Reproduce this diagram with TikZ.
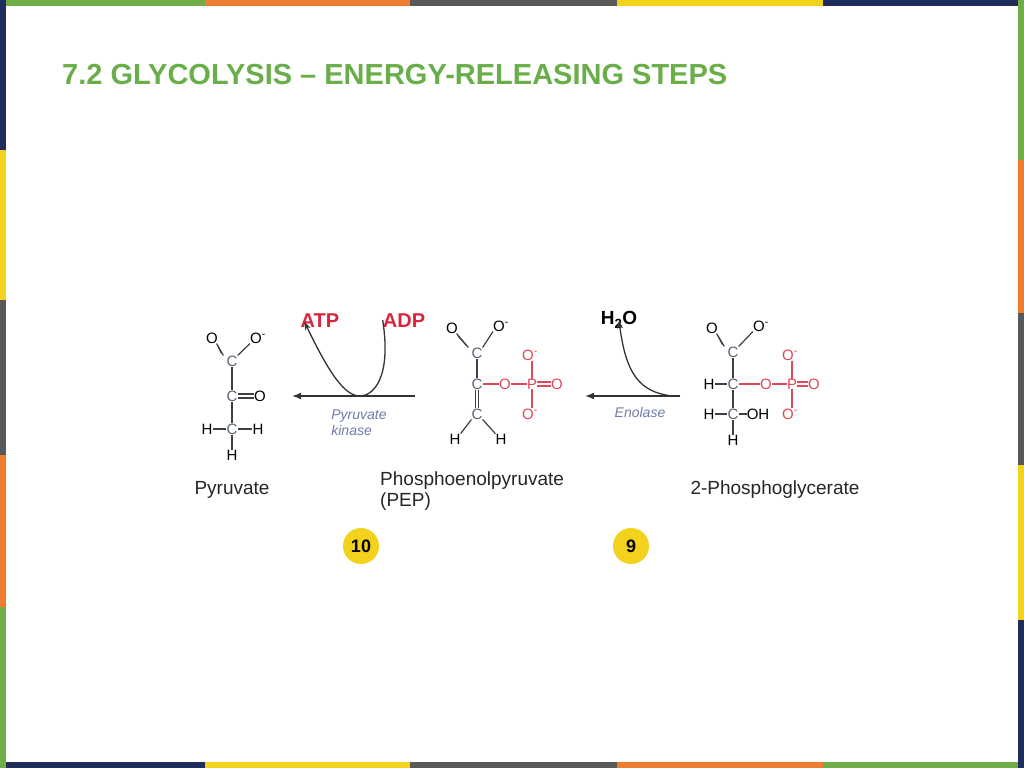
\documentclass[tikz,border=0pt]{standalone}
\usepackage{fontspec}
\setmainfont{Liberation Sans}
\usetikzlibrary{arrows.meta}
\definecolor{bgreen}{HTML}{70AD47}
\definecolor{borange}{HTML}{ED7D31}
\definecolor{bgrey}{HTML}{595959}
\definecolor{byellow}{HTML}{F2D21C}
\definecolor{bnavy}{HTML}{1F2D5C}
\definecolor{ttl}{HTML}{6AAE4A}
\definecolor{cgrey}{HTML}{5A6478}
\definecolor{pred}{HTML}{E0485A}
\definecolor{enz}{HTML}{6E7CA8}
\definecolor{atpred}{HTML}{D9263F}
\newcommand{\omin}{O\textsuperscript{-}}
\tikzset{
 atm/.style={inner sep=0pt,font=\fontsize{15}{15}\selectfont},
 cat/.style={atm,text=cgrey},
 rat/.style={atm,text=pred},
 bd/.style={line width=1.2pt,black!75},
 rbd/.style={line width=1.2pt,pred},
 lbl/.style={inner sep=0pt,font=\fontsize{19}{21}\selectfont,align=left,text=black!85},
 enzl/.style={inner sep=0pt,font=\fontsize{14}{16}\selectfont\itshape,text=enz,align=left},
 rx/.style={line width=1.6pt,black!80,-{Latex[length=9pt,width=7pt]}},
 cv/.style={line width=1.3pt,black!80,-{Stealth[length=8pt,width=6pt]}},
 num/.style={circle,fill=byellow,minimum size=36pt,inner sep=0pt,font=\bfseries\fontsize{18}{18}\selectfont}
}
\begin{document}
\begin{tikzpicture}[x=1pt,y=-1pt]
\useasboundingbox (0,0) rectangle (1024,768);
\fill[white] (0,0) rectangle (1024,768);
% borders
\foreach \a/\b/\c in {0/205/bgreen,205/410/borange,410/617/bgrey,617/823/byellow,823/1024/bnavy}
  \fill[\c] (\a,0) rectangle (\b,6);
\foreach \a/\b/\c in {0/205/bnavy,205/410/byellow,410/617/bgrey,617/823/borange,823/1024/bgreen}
  \fill[\c] (\a,762) rectangle (\b,768);
\foreach \a/\b/\c in {0/150/bnavy,150/300/byellow,300/455/bgrey,455/607/borange,607/768/bgreen}
  \fill[\c] (0,\a) rectangle (6,\b);
\foreach \a/\b/\c in {0/160/bgreen,160/313/borange,313/465/bgrey,465/620/byellow,620/768/bnavy}
  \fill[\c] (1018,\a) rectangle (1024,\b);
\node[anchor=west,inner sep=0pt,text=ttl,font=\bfseries\fontsize{29}{29}\selectfont] (title) at (62,75) {7.2 GLYCOLYSIS – ENERGY-RELEASING STEPS};

% Pyruvate
\node[atm] (a1) at (212,338) {O};
\node[cat] (a2) at (232,361) {C};
\node[atm] (a3) at (258,338) {\omin};
\node[cat] (a4) at (232,396) {C};
\node[atm] (a5) at (260,396) {O};
\node[atm] (a6) at (207,429) {H};
\node[cat] (a7) at (232,429) {C};
\node[atm] (a8) at (258,429) {H};
\node[atm] (a9) at (232,455) {H};
\draw[bd] ([xshift=-1.5pt]a1.south east) -- ([xshift=-3pt]a2.north west);
\draw[bd] ([yshift=-2.5pt]a1.south east) -- ([xshift=-5pt,yshift=2pt]a2.north west);
\draw[bd] (a2.north east) -- (a3.south west);
\draw[bd] (a2.south) -- (a4.north);
\draw[bd] ([yshift=-2pt]a4.east) -- ([yshift=-2pt]a5.west);
\draw[bd] ([yshift=2pt]a4.east) -- ([yshift=2pt]a5.west);
\draw[bd] (a4.south) -- (a7.north);
\draw[bd] (a6.east) -- (a7.west);
\draw[bd] (a7.east) -- (a8.west);
\draw[bd] (a7.south) -- (a9.north);
\node[lbl] (pyr) at (232,490) {Pyruvate};

% reaction 10
\coordinate (r10s) at (415,396);
\coordinate (r10e) at (292,396);
\draw[rx] (r10s) -- (r10e);
\node[inner sep=0pt,text=atpred,font=\bfseries\fontsize{20}{20}\selectfont] (atp) at (320,321) {ATP};
\node[inner sep=0pt,text=atpred,font=\bfseries\fontsize{20}{20}\selectfont] (adp) at (404,321) {ADP};
\draw[cv] ([yshift=8pt]adp.south west) .. controls (392,380) and (372,396) .. (360,396) .. controls (345,396) and (330,375) .. ([xshift=4pt,yshift=6pt]atp.south west);
\node[enzl] (pk) at (359,423) {Pyruvate\\kinase};

% PEP
\node[atm] (b1) at (452,328) {O};
\node[atm] (b2) at (501,326) {\omin};
\node[cat] (b3) at (477,353) {C};
\node[cat] (b4) at (477,384) {C};
\node[rat] (b5) at (505,384) {O};
\node[rat] (b6) at (532,384) {P};
\node[rat] (b7) at (557,384) {O};
\node[rat] (b8) at (530,355) {\omin};
\node[rat] (b9) at (530,414) {\omin};
\node[cat] (b10) at (477,414) {C};
\node[atm] (b11) at (455,439) {H};
\node[atm] (b12) at (501,439) {H};
\draw[bd] ([xshift=-1.5pt]b1.south east) -- ([xshift=-3pt]b3.north west);
\draw[bd] ([yshift=-2.5pt]b1.south east) -- ([xshift=-5pt,yshift=2pt]b3.north west);
\draw[bd] (b3.north east) -- (b2.south west);
\draw[bd] (b3.south) -- (b4.north);
\draw[bd] ([xshift=-1.5pt]b4.south) -- ([xshift=-1.5pt]b10.north);
\draw[bd] ([xshift=1.5pt]b4.south) -- ([xshift=1.5pt]b10.north);
\draw[rbd] (b4.east) -- (b5.west);
\draw[rbd] (b5.east) -- (b6.west);
\draw[rbd] ([yshift=-2pt]b6.east) -- ([yshift=-2pt]b7.west);
\draw[rbd] ([yshift=2pt]b6.east) -- ([yshift=2pt]b7.west);
\draw[rbd] (b6.north) -- (b8.south-|b6.north);
\draw[rbd] (b6.south) -- (b9.north-|b6.south);
\draw[bd] (b10.south west) -- (b11.north east);
\draw[bd] (b10.south east) -- (b12.north west);
\node[lbl,anchor=west] (pep) at (380,491) {Phosphoenolpyruvate\\(PEP)};

% reaction 9
\coordinate (r9s) at (680,396);
\coordinate (r9e) at (585,396);
\draw[rx] (r9s) -- (r9e);
\node[inner sep=0pt,font=\bfseries\fontsize{19}{19}\selectfont] (h2o) at (619,320) {H\textsubscript{2}O};
\draw[cv] (672,396) .. controls (640,392) and (626,375) .. ([yshift=8pt]h2o.south);
\node[enzl] (en) at (640,412) {Enolase};

% 2-PG
\node[atm] (c1) at (712,328) {O};
\node[atm] (c2) at (761,326) {\omin};
\node[cat] (c3) at (733,352) {C};
\node[atm] (c4) at (709,384) {H};
\node[cat] (c5) at (733,384) {C};
\node[rat] (c6) at (766,384) {O};
\node[rat] (c7) at (792,384) {P};
\node[rat] (c8) at (814,384) {O};
\node[rat] (c9) at (790,355) {\omin};
\node[atm] (c10) at (709,414) {H};
\node[cat] (c11) at (733,414) {C};
\node[atm] (c12) at (758,414) {OH};
\node[rat] (c13) at (790,414) {\omin};
\node[atm] (c14) at (733,440) {H};
\draw[bd] ([xshift=-1.5pt]c1.south east) -- ([xshift=-3pt]c3.north west);
\draw[bd] ([yshift=-2.5pt]c1.south east) -- ([xshift=-5pt,yshift=2pt]c3.north west);
\draw[bd] (c3.north east) -- (c2.south west);
\draw[bd] (c3.south) -- (c5.north);
\draw[bd] (c4.east) -- (c5.west);
\draw[rbd] (c5.east) -- (c6.west);
\draw[rbd] (c6.east) -- (c7.west);
\draw[rbd] ([yshift=-2pt]c7.east) -- ([yshift=-2pt]c8.west);
\draw[rbd] ([yshift=2pt]c7.east) -- ([yshift=2pt]c8.west);
\draw[rbd] (c7.north) -- (c9.south-|c7.north);
\draw[rbd] (c7.south) -- (c13.north-|c7.south);
\draw[bd] (c5.south) -- (c11.north);
\draw[bd] (c10.east) -- (c11.west);
\draw[bd] (c11.east) -- (c12.west);
\draw[bd] (c11.south) -- (c14.north);
\node[lbl] (pg) at (775,490) {2-Phosphoglycerate};

\node[num] (n10) at (361,546) {10};
\node[num] (n9) at (631,546) {9};
\end{tikzpicture}
\end{document}
